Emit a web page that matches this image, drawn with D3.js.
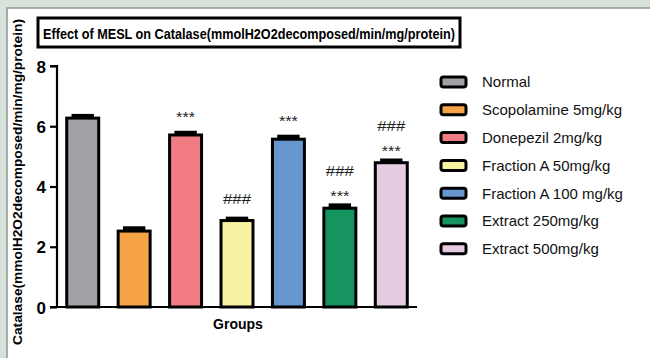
<!DOCTYPE html>
<html>
<head>
<meta charset="utf-8">
<script src="https://cdn.jsdelivr.net/npm/d3@7"></script>
<style>
  html, body { margin: 0; padding: 0; background: #d7e3da; }
  svg { display: block; }
</style>
</head>
<body>
<svg id="chart" width="650" height="358"></svg>
<script>
// Catalase activity per treatment group (mean and SEM)
const groups = ["Normal", "Scopolamine 5mg/kg", "Donepezil 2mg/kg", "Fraction A 50mg/kg",
                "Fraction A 100 mg/kg", "Extract 250mg/kg", "Extract 500mg/kg"];
const means = [6.27, 2.52, 5.71, 2.87, 5.57, 3.28, 4.79];
const sems  = [0.09, 0.11, 0.09, 0.08, 0.10, 0.11, 0.09];
const colors = ["#a2a1a6", "#f6a348", "#f27c83", "#f7f3a2", "#6796cf", "#16945f", "#e6cce2"];
// significance marks, listed from the bar upward
const marks = [[], [], ["***"], ["###"], ["***"], ["***", "###"], ["***", "###"]];
const yTicks = [0, 2, 4, 6, 8];

const FONT = "Liberation Sans, Arial, sans-serif";
const svg = d3.select("#chart");

// white panel with a grey frame
svg.append("rect")
  .attr("x", 7).attr("y", 8).attr("width", 660).attr("height", 370)
  .attr("fill", "#ffffff").attr("stroke", "#8e9590").attr("stroke-width", 1.5);

const x = d3.scaleBand().domain(groups).range([57, 417]).paddingInner(0.32).paddingOuter(0.16);
const y = d3.scaleLinear().domain([0, 8]).range([307, 66]);

// title box
svg.append("rect")
  .attr("x", 38).attr("y", 18).attr("width", 422).attr("height", 29)
  .attr("fill", "#fff").attr("stroke", "#000").attr("stroke-width", 3);
svg.append("text")
  .attr("x", 249).attr("y", 38.5).attr("text-anchor", "middle")
  .attr("font-family", FONT)
  .attr("font-weight", "bold").attr("font-size", 15)
  .attr("textLength", 412).attr("lengthAdjust", "spacingAndGlyphs")
  .text("Effect of MESL on Catalase(mmolH2O2decomposed/min/mg/protein)");

// bars
const barG = svg.append("g");
barG.selectAll("rect.bar").data(groups).join("rect")
  .attr("class", "bar")
  .attr("x", d => x(d) + 1.5)
  .attr("y", (d, i) => y(means[i]))
  .attr("width", x.bandwidth() - 3)
  .attr("height", (d, i) => y(0) - y(means[i]))
  .attr("fill", (d, i) => colors[i])
  .attr("stroke", "#000").attr("stroke-width", 3);

// error bars (upper SEM), drawn as heavy caps over the bar outline
const capTop = i => y(means[i] + sems[i]) - 1.5;
barG.selectAll("rect.err").data(groups).join("rect")
  .attr("class", "err")
  .attr("x", d => x(d) + x.bandwidth() * 0.18)
  .attr("y", (d, i) => capTop(i))
  .attr("width", x.bandwidth() * 0.64)
  .attr("height", (d, i) => y(means[i]) - capTop(i))
  .attr("fill", "#000");

// significance annotations
groups.forEach((g, i) => {
  const top = capTop(i);
  marks[i].forEach((m, k) => {
    // vertical centre of each mark above the error cap
    const centre = marks[i].length === 1 ? top - 18 : top - 11 - k * 22;
    const star = m === "***";
    svg.append("text")
      .attr("x", x(g) + x.bandwidth() / 2)
      .attr("y", star ? centre + 9 : centre + 5.5)
      .attr("text-anchor", "middle")
      .attr("font-family", FONT)
      .attr("font-size", star ? 15 : 15)
      .attr("textLength", star ? 19 : 28)
      .attr("lengthAdjust", "spacingAndGlyphs")
      .attr("fill", "#222")
      .text(m);
  });
});

// axes
const yAxis = svg.append("g")
  .attr("transform", "translate(57,0)")
  .call(d3.axisLeft(y).tickValues(yTicks).tickSize(7).tickPadding(4).tickFormat(d3.format("d")));
yAxis.select(".domain").attr("stroke", "#000").attr("stroke-width", 2.2).attr("d", "M-7,66H0V307H-7");
yAxis.selectAll(".tick line").attr("stroke", "#000").attr("stroke-width", 2.2);
yAxis.selectAll(".tick text")
  .attr("font-family", FONT)
  .attr("font-weight", "bold").attr("font-size", 17).attr("fill", "#000")
  .attr("dy", "0.36em");

svg.append("line")
  .attr("x1", 56).attr("x2", 417).attr("y1", y(0)).attr("y2", y(0))
  .attr("stroke", "#000").attr("stroke-width", 2.2);

// axis titles
svg.append("text")
  .attr("x", 238).attr("y", 329).attr("text-anchor", "middle")
  .attr("font-family", FONT)
  .attr("font-weight", "bold").attr("font-size", 14)
  .text("Groups");

svg.append("text")
  .attr("transform", "translate(22,182) rotate(-90)")
  .attr("text-anchor", "middle")
  .attr("font-family", FONT)
  .attr("font-weight", "bold").attr("font-size", 13)
  .attr("textLength", 326).attr("lengthAdjust", "spacingAndGlyphs")
  .text("Catalase(mmolH2O2decomposed/min/mg/protein)");

// legend
const leg = svg.append("g").attr("transform", "translate(441,82)");
const rows = leg.selectAll("g").data(groups).join("g")
  .attr("transform", (d, i) => `translate(0,${i * 27.8})`);
rows.append("rect")
  .attr("x", 0).attr("y", -5).attr("width", 25).attr("height", 10)
  .attr("rx", 2.5)
  .attr("fill", (d, i) => colors[i])
  .attr("stroke", "#000").attr("stroke-width", 3);
rows.append("text")
  .attr("x", 41).attr("y", 0).attr("dy", "0.36em")
  .attr("font-family", FONT)
  .attr("font-size", 15).attr("fill", "#111")
  .text(d => d);
</script>
</body>
</html>
